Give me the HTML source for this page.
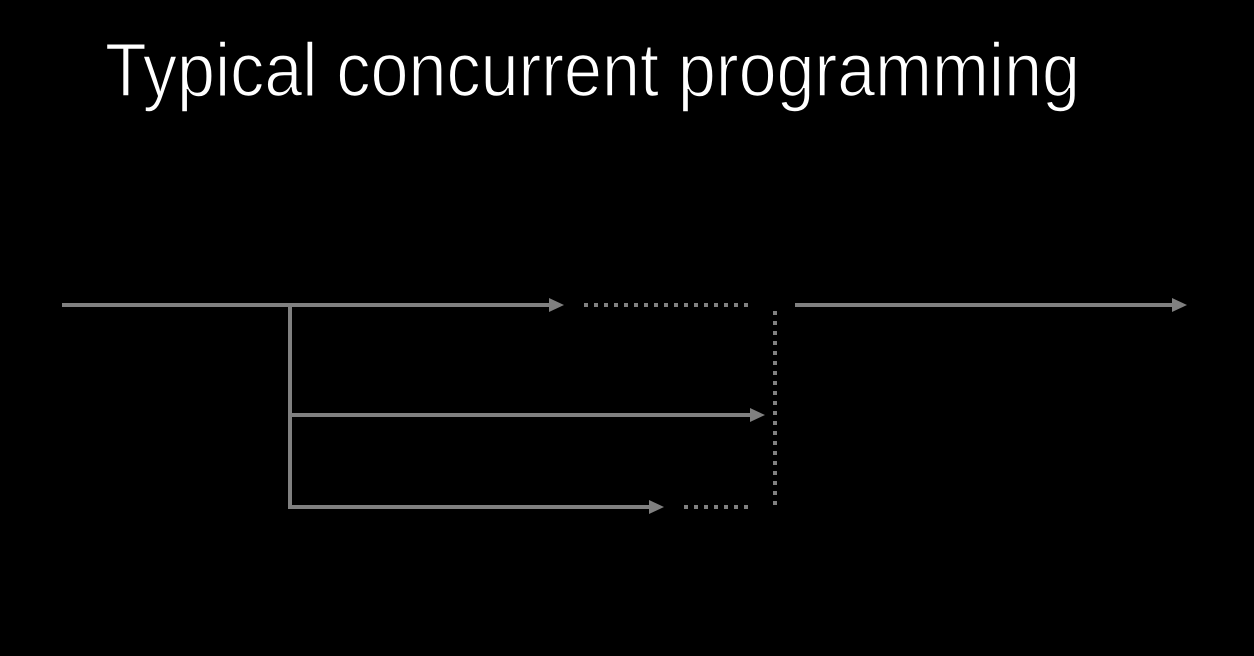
<!DOCTYPE html>
<html><head><style>html,body{margin:0;padding:0;background:#000;width:1254px;height:656px;overflow:hidden}</style></head>
<body>
<svg width="1254" height="656" xmlns="http://www.w3.org/2000/svg">
<rect width="1254" height="656" fill="#000"/>
<text x="105" y="96" font-family="Liberation Sans, sans-serif" font-size="76" fill="#fff" textLength="975" lengthAdjust="spacingAndGlyphs" stroke="#000" stroke-width="1.5">Typical concurrent programming</text>
<g stroke="#808080" stroke-width="4" fill="none">
<line x1="62" y1="305" x2="552" y2="305"/>
<line x1="290" y1="305" x2="290" y2="507"/>
<line x1="288" y1="415" x2="752" y2="415"/>
<line x1="288" y1="507" x2="652" y2="507"/>
<line x1="795" y1="305" x2="1175" y2="305"/>
<line x1="584" y1="305" x2="750" y2="305" stroke-dasharray="4 6"/>
<line x1="684" y1="507" x2="750" y2="507" stroke-dasharray="4 6"/>
<line x1="775" y1="311" x2="775" y2="508" stroke-dasharray="4 6"/>
</g>
<g fill="#808080">
<polygon points="549,298 564,305 549,312"/>
<polygon points="750,408 765,415 750,422"/>
<polygon points="649,500 664,507 649,514"/>
<polygon points="1172,298 1187,305 1172,312"/>
</g>
</svg>
</body></html>
